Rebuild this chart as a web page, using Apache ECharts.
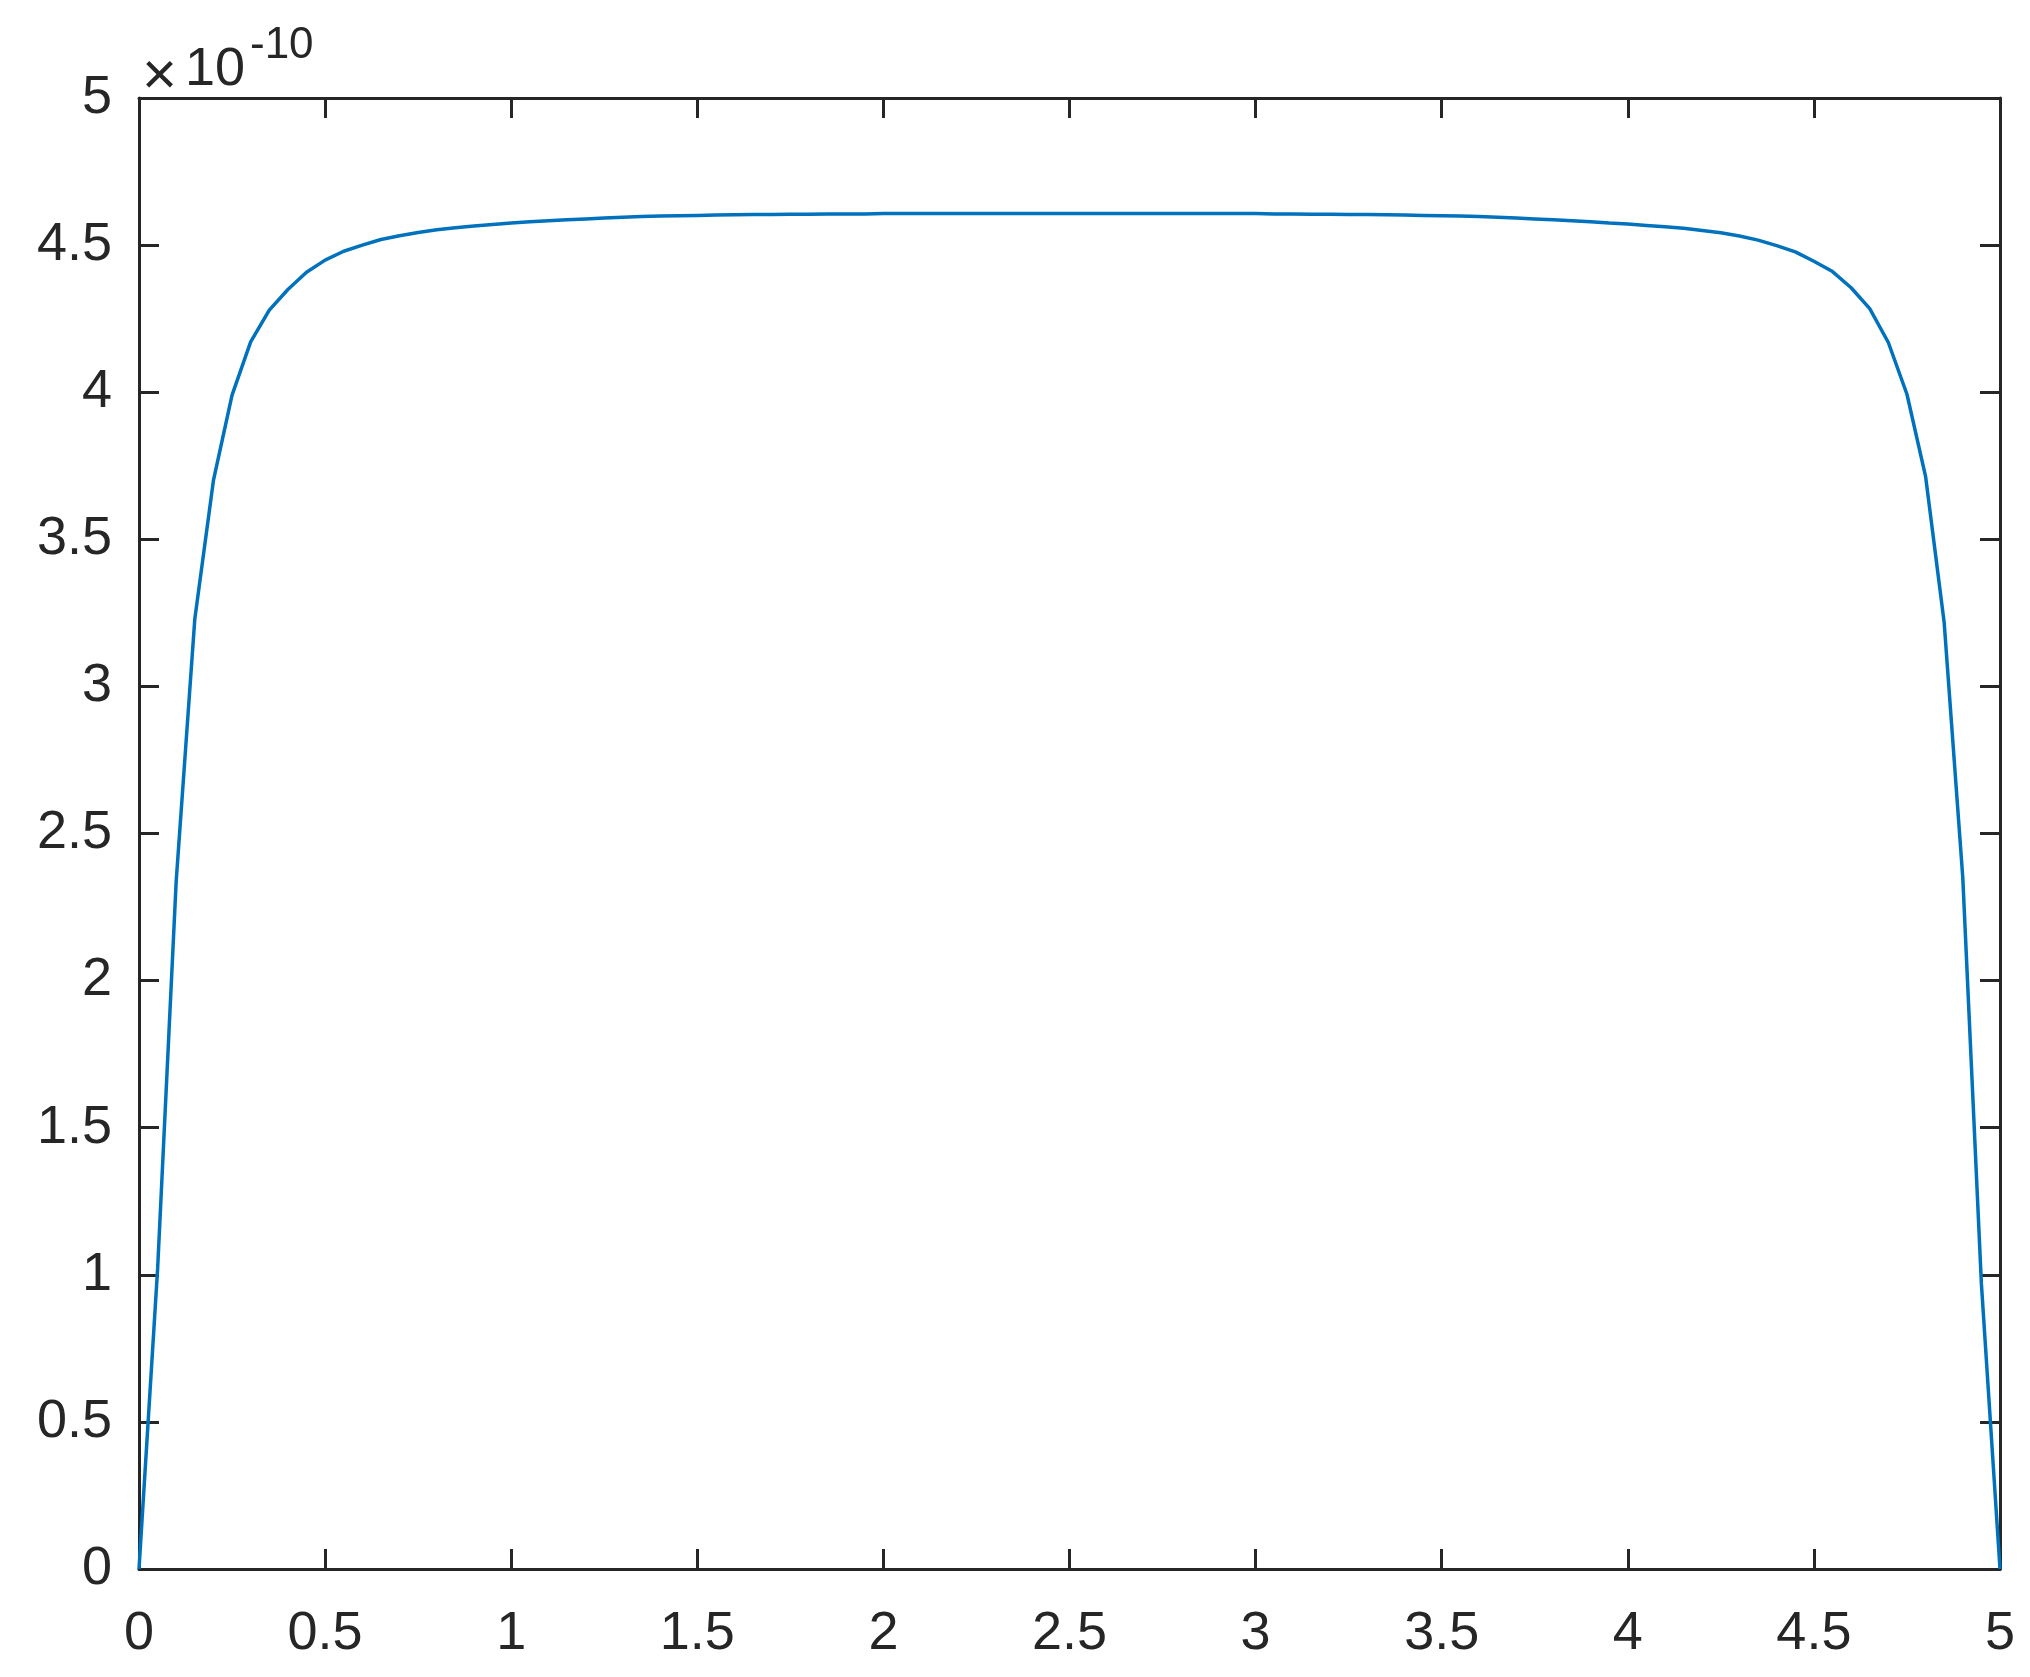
<!DOCTYPE html>
<html>
<head>
<meta charset="utf-8">
<title>plot</title>
<script src="https://cdn.jsdelivr.net/npm/echarts@6/dist/echarts.min.js"></script>
<style>
  html, body { margin: 0; padding: 0; background: #fff; }
  #chart { width: 2030px; height: 1677px; }
</style>
</head>
<body>
<div id="chart"></div>
<script>
// x positions of the samples
const xValues = [
  0, 0.05, 0.1, 0.15, 0.2, 0.25, 0.3, 0.35, 0.4, 0.45,
  0.5, 0.55, 0.6, 0.65, 0.7, 0.75, 0.8, 0.85, 0.9, 0.95,
  1, 1.05, 1.1, 1.15, 1.2, 1.25, 1.3, 1.35, 1.4, 1.45,
  1.5, 1.55, 1.6, 1.65, 1.7, 1.75, 1.8, 1.85, 1.9, 1.95,
  2, 2.05, 2.1, 2.15, 2.2, 2.25, 2.3, 2.35, 2.4, 2.45,
  2.5, 2.55, 2.6, 2.65, 2.7, 2.75, 2.8, 2.85, 2.9, 2.95,
  3, 3.05, 3.1, 3.15, 3.2, 3.25, 3.3, 3.35, 3.4, 3.45,
  3.5, 3.55, 3.6, 3.65, 3.7, 3.75, 3.8, 3.85, 3.9, 3.95,
  4, 4.05, 4.1, 4.15, 4.2, 4.25, 4.3, 4.35, 4.4, 4.45,
  4.5, 4.55, 4.6, 4.65, 4.7, 4.75, 4.8, 4.85, 4.9, 4.95,
  5
]

// values in units of 1e-10
const yValues = [
  0, 1.02, 2.34, 3.23, 3.70, 3.99, 4.171, 4.279, 4.349, 4.408,
  4.449, 4.479, 4.500, 4.519, 4.532, 4.543, 4.552, 4.559, 4.565, 4.570,
  4.575, 4.579, 4.583, 4.586, 4.589, 4.592, 4.595, 4.597, 4.599, 4.600,
  4.601, 4.602, 4.603, 4.604, 4.604, 4.605, 4.605, 4.606, 4.606, 4.606,
  4.607, 4.607, 4.607, 4.607, 4.607, 4.607, 4.607, 4.607, 4.607, 4.607,
  4.607, 4.607, 4.607, 4.607, 4.607, 4.607, 4.607, 4.607, 4.607, 4.607,
  4.607, 4.606, 4.606, 4.605, 4.605, 4.604, 4.604, 4.603, 4.602, 4.601,
  4.600, 4.599, 4.597, 4.595, 4.592, 4.589, 4.586, 4.583, 4.579, 4.575,
  4.572, 4.567, 4.562, 4.557, 4.550, 4.542, 4.531, 4.517, 4.498, 4.477,
  4.445, 4.410, 4.355, 4.284, 4.169, 3.993, 3.714, 3.217, 2.35, 0.97,
  0
]

const axisMin = 0
const axisMax = 5
const tickStep = 0.5
const exponentText = '-10'

const textColor = '#262626'
const fontFamily = 'Liberation Sans, Arial, Helvetica, sans-serif'

const chart = echarts.init(document.getElementById('chart'))

const seriesData = xValues.map((x, i) => [x, yValues[i]])

function makeAxis(position, showLabel, margin) {
  return {
    type: 'value',
    position: position,
    min: axisMin,
    max: axisMax,
    interval: tickStep,
    axisLine: {
      show: true,
      onZero: false,
      lineStyle: { color: textColor, width: 3 }
    },
    axisTick: {
      show: true,
      inside: true,
      length: 20,
      lineStyle: { color: textColor, width: 3 }
    },
    axisLabel: {
      show: showLabel,
      margin: margin,
      color: textColor,
      fontSize: 54,
      fontFamily: fontFamily
    },
    splitLine: { show: false }
  }
}

chart.setOption({
  animation: false,
  backgroundColor: '#ffffff',
  grid: {
    left: 139,
    right: 30,
    top: 98,
    bottom: 108,
    containLabel: false
  },
  xAxis: [
    makeAxis('bottom', true, 38),
    makeAxis('top', false, 0)
  ],
  yAxis: [
    makeAxis('left', true, 27),
    makeAxis('right', false, 0)
  ],
  graphic: [
    {
      type: 'text',
      left: 142,
      top: 47,
      style: { text: '\u00d7', fontSize: 60, fontFamily: fontFamily, fill: textColor }
    },
    {
      type: 'text',
      left: 185,
      top: 43,
      style: { text: '10', fontSize: 54, fontFamily: fontFamily, fill: textColor }
    },
    {
      type: 'text',
      left: 250,
      top: 24,
      style: { text: exponentText, fontSize: 44, fontFamily: fontFamily, fill: textColor }
    }
  ],
  series: [{
    type: 'line',
    data: seriesData,
    xAxisIndex: 0,
    yAxisIndex: 0,
    showSymbol: false,
    smooth: false,
    lineStyle: { color: '#0072BD', width: 3.5 },
    itemStyle: { color: '#0072BD' }
  }]
})
</script>
</body>
</html>
